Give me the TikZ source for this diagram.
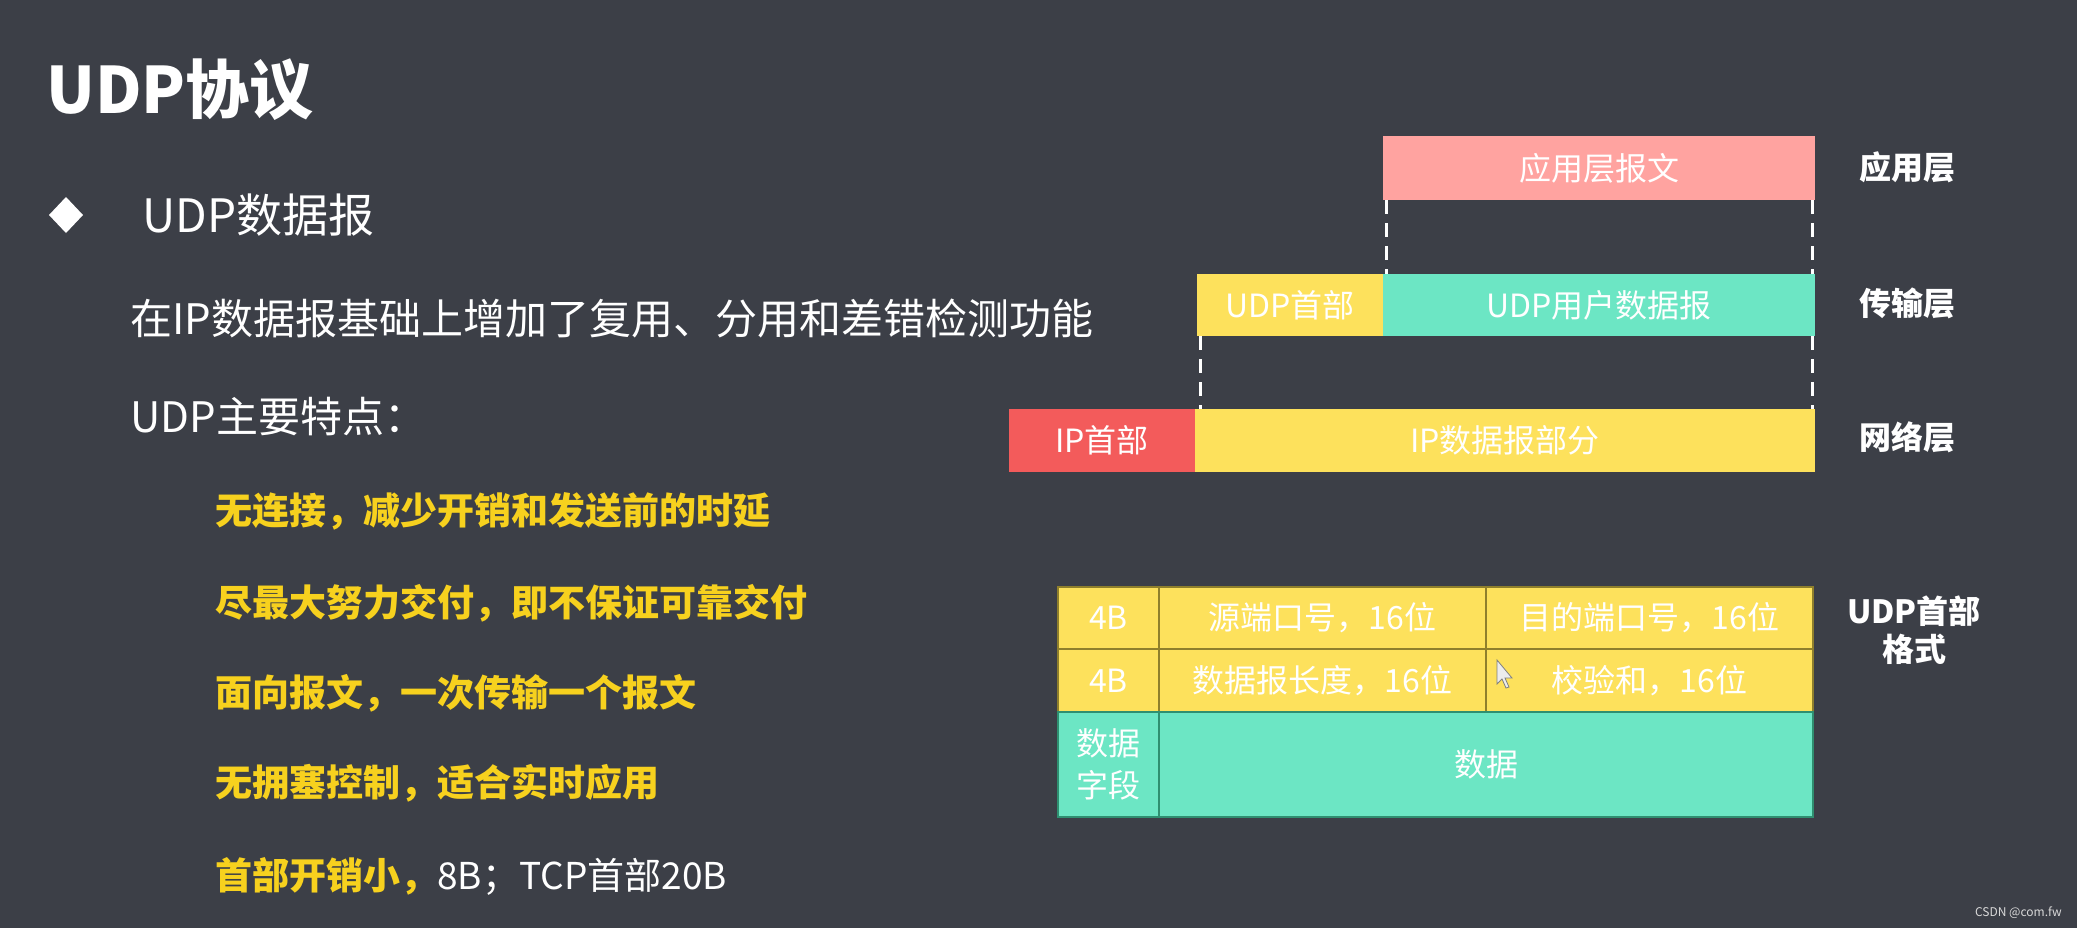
\documentclass[tikz,border=0pt]{standalone}
\usepackage{fontspec}
\setmainfont{Noto Sans CJK SC}
\definecolor{bg}{HTML}{3C3F47}
\definecolor{pinkbox}{HTML}{FFA3A0}
\definecolor{ylwbox}{HTML}{FDE15C}
\definecolor{grnbox}{HTML}{6CE6C4}
\definecolor{redbox}{HTML}{F35B5B}
\definecolor{ylwtext}{HTML}{F7D11E}
\definecolor{ylwline}{HTML}{8F7F2C}
\definecolor{grnline}{HTML}{2F8F70}
\begin{document}
\begin{tikzpicture}[x=0.5pt,y=-0.5pt,
  blk/.style={anchor=north west, inner sep=0pt, outer sep=0pt, text=white,
    font=\fontsize{16}{19}\selectfont},
  layerlbl/.style={text=white, inner sep=0pt, font=\fontsize{16}{19}\selectfont\bfseries},
  dashline/.style={draw=white, line width=1.5pt, dash pattern=on 7pt off 4.5pt},
  ycell/.style={blk, fill=ylwbox, draw=ylwline, line width=1pt},
  gcell/.style={blk, fill=grnbox, draw=grnline, line width=1pt},
  wline/.style={anchor=west, inner sep=0pt, text=white, font=\fontsize{21}{25}\selectfont},
  yline/.style={anchor=west, inner sep=0pt, text=ylwtext, font=\fontsize{18.5}{22}\selectfont\bfseries}
]
\fill[bg] (0,0) rectangle (2077,928);
\useasboundingbox (0,0) rectangle (2077,928);

% ---- left text ----
\node[anchor=west, inner sep=0pt, text=white, font=\fontsize{32}{38}\selectfont\bfseries] (title) at (46,90) {UDP协议};
\fill[white] (66,197) -- (83,215) -- (66,233) -- (49,215) -- cycle;
\node[anchor=west, inner sep=0pt, text=white, font=\fontsize{23}{27}\selectfont] (sub) at (142,215) {UDP数据报};
\node[wline] (l1) at (130,318) {在IP数据报基础上增加了复用、分用和差错检测功能};
\node[wline] (l2) at (130,417) {UDP主要特点：};
\node[yline] (y1) at (215,511) {无连接，减少开销和发送前的时延};
\node[yline] (y2) at (215,603) {尽最大努力交付，即不保证可靠交付};
\node[yline] (y3) at (215,693) {面向报文，一次传输一个报文};
\node[yline] (y4) at (215,783) {无拥塞控制，适合实时应用};
\node[yline] (y5) at (215,876) {首部开销小，\textcolor{white}{\mdseries 8B；TCP首部20B}};

% ---- layer diagram ----
\node[blk, fill=pinkbox, minimum width=216pt, minimum height=32pt] (app) at (1383,136) {应用层报文};
\node[blk, fill=ylwbox, minimum width=93pt, minimum height=31pt] (udph) at (1197,274) {UDP首部};
\node[blk, fill=grnbox, minimum width=216pt, minimum height=31pt] (udpd) at (1383,274) {UDP用户数据报};
\node[blk, fill=redbox, minimum width=93pt, minimum height=31.5pt] (iph) at (1009,409) {IP首部};
\node[blk, fill=ylwbox, minimum width=310pt, minimum height=31.5pt] (ipd) at (1195,409) {IP数据报部分};

\draw[dashline] ([xshift=1.5pt]app.south west) -- ([xshift=1.5pt]udpd.north west);
\draw[dashline] ([xshift=-1.5pt]app.south east) -- ([xshift=-1.5pt]udpd.north east);
\draw[dashline] ([xshift=1.5pt]udph.south west) -- ([xshift=2.5pt]ipd.north west);
\draw[dashline] ([xshift=-1.5pt]udpd.south east) -- ([xshift=-1.5pt]ipd.north east);

\node[layerlbl] (lapp) at (1907,167) {应用层};
\node[layerlbl] (ltrans) at (1907,303) {传输层};
\node[layerlbl] (lnet) at (1907,437) {网络层};

% ---- UDP header table ----
\node[ycell, minimum width=50.5pt, minimum height=31pt] (r1a) at (1058,587) {4B};
\node[ycell, minimum width=163.5pt, minimum height=31pt] (r1b) at (1159,587) {源端口号，16位};
\node[ycell, minimum width=163.5pt, minimum height=31pt] (r1c) at (1486,587) {目的端口号，16位};
\node[ycell, minimum width=50.5pt, minimum height=31.5pt] (r2a) at (1058,649) {4B};
\node[ycell, minimum width=163.5pt, minimum height=31.5pt] (r2b) at (1159,649) {数据报长度，16位};
\node[ycell, minimum width=163.5pt, minimum height=31.5pt] (r2c) at (1486,649) {校验和，16位};
\node[gcell, minimum width=50.5pt, minimum height=52.5pt, align=center,
      font=\fontsize{16}{21}\selectfont] (r3a) at (1058,712) {数据\\字段};
\node[gcell, minimum width=327pt, minimum height=52.5pt] (r3b) at (1159,712) {数据};

\node[layerlbl, align=center] (lhdr) at (1914,630) {UDP首部\\格式};

% mouse cursor
\filldraw[fill=white!85!gray, draw=gray, line width=0.4pt]
  (1497,660) -- (1497,684) -- (1502,679) -- (1506,688) -- (1509,687) -- (1505,678) -- (1512,678) -- cycle;

% watermark
\node[anchor=east, inner sep=0pt, text=white!70!gray, font=\fontsize{6}{7}\selectfont] (wm) at (2062,913) {CSDN @com.fw};
\end{tikzpicture}
\end{document}
